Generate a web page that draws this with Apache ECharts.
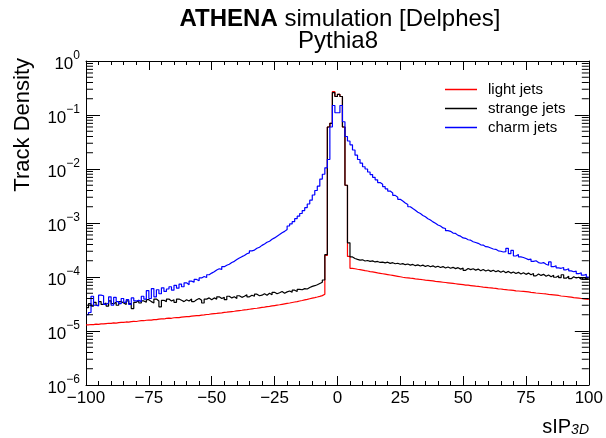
<!DOCTYPE html>
<html>
<head>
<meta charset="utf-8">
<script src="https://cdn.jsdelivr.net/npm/echarts@6/dist/echarts.min.js"></script>
<style>html,body{margin:0;padding:0;background:#fff}#c{width:606px;height:438px}</style>
</head>
<body>
<div id="c"></div>
<script>
// bin layout: 200 bins of width 1 from -100 to 100 (value listed per bin, left edge order)
const xMin = -100, xMax = 100, binWidth = 1;
const xTicks = [-100, -75, -50, -25, 0, 25, 50, 75, 100];
const yDecades = [1e-6, 1e-5, 1e-4, 1e-3, 1e-2, 1e-1, 1];
const seriesNames = ['light jets', 'strange jets', 'charm jets'];

const lightJets = [
  1.30e-5,1.32e-5,1.31e-5,1.34e-5,1.33e-5,1.36e-5,1.35e-5,1.37e-5,1.39e-5,1.38e-5,
  1.41e-5,1.40e-5,1.43e-5,1.45e-5,1.44e-5,1.47e-5,1.46e-5,1.49e-5,1.51e-5,1.50e-5,
  1.53e-5,1.56e-5,1.55e-5,1.58e-5,1.60e-5,1.59e-5,1.63e-5,1.62e-5,1.66e-5,1.68e-5,
  1.67e-5,1.71e-5,1.73e-5,1.72e-5,1.76e-5,1.78e-5,1.77e-5,1.81e-5,1.83e-5,1.85e-5,
  1.84e-5,1.88e-5,1.91e-5,1.93e-5,1.92e-5,1.97e-5,1.99e-5,2.02e-5,2.04e-5,2.07e-5,
  2.10e-5,2.12e-5,2.15e-5,2.17e-5,2.21e-5,2.23e-5,2.26e-5,2.29e-5,2.32e-5,2.36e-5,
  2.39e-5,2.42e-5,2.46e-5,2.49e-5,2.53e-5,2.57e-5,2.61e-5,2.64e-5,2.69e-5,2.73e-5,
  2.77e-5,2.82e-5,2.86e-5,2.91e-5,2.96e-5,3.01e-5,3.06e-5,3.12e-5,3.18e-5,3.24e-5,
  3.30e-5,3.37e-5,3.44e-5,3.51e-5,3.59e-5,3.67e-5,3.76e-5,3.85e-5,3.95e-5,4.05e-5,
  4.15e-5,4.26e-5,4.38e-5,4.52e-5,4.8e-5,2.5e-4,0.06,0.07,0.27,0.22,
  0.24,0.22,0.06,0.005,2.4e-4,1.45e-4,1.42e-4,1.39e-4,1.37e-4,1.34e-4,
  1.31e-4,1.29e-4,1.26e-4,1.24e-4,1.22e-4,1.19e-4,1.17e-4,1.15e-4,1.13e-4,1.11e-4,
  1.09e-4,1.07e-4,1.05e-4,1.03e-4,1.01e-4,9.9e-5,9.75e-5,9.65e-5,9.5e-5,9.4e-5,
  9.25e-5,9.15e-5,9.0e-5,8.9e-5,8.75e-5,8.65e-5,8.55e-5,8.45e-5,8.3e-5,8.2e-5,
  8.1e-5,8.0e-5,7.9e-5,7.8e-5,7.7e-5,7.6e-5,7.5e-5,7.4e-5,7.3e-5,7.2e-5,
  7.1e-5,7.05e-5,6.95e-5,6.85e-5,6.75e-5,6.7e-5,6.6e-5,6.5e-5,6.45e-5,6.35e-5,
  6.3e-5,6.2e-5,6.15e-5,6.05e-5,6.0e-5,5.9e-5,5.85e-5,5.75e-5,5.7e-5,5.65e-5,
  5.55e-5,5.5e-5,5.45e-5,5.4e-5,5.35e-5,5.3e-5,5.2e-5,5.15e-5,5.05e-5,5.0e-5,
  4.95e-5,4.9e-5,4.85e-5,4.75e-5,4.7e-5,4.65e-5,4.6e-5,4.55e-5,4.45e-5,4.4e-5,
  4.35e-5,4.3e-5,4.25e-5,4.15e-5,4.1e-5,4.05e-5,4.0e-5,3.95e-5,3.9e-5,3.85e-5
];

const strangeJets = [
  2.7e-5,3.2e-5,2.9e-5,3.4e-5,3.0e-5,3.5e-5,3.1e-5,3.3e-5,2.9e-5,3.6e-5,
  3.2e-5,3.4e-5,3.0e-5,3.5e-5,3.3e-5,3.1e-5,3.6e-5,3.2e-5,2.6e-5,3.4e-5,
  3.7e-5,3.3e-5,3.6e-5,3.4e-5,3.8e-5,3.5e-5,3.3e-5,3.9e-5,3.6e-5,2.8e-5,
  3.7e-5,3.5e-5,3.9e-5,3.6e-5,3.8e-5,3.4e-5,3.9e-5,3.7e-5,3.5e-5,3.8e-5,
  3.6e-5,3.9e-5,3.5e-5,3.8e-5,4.0e-5,3.7e-5,3.3e-5,3.9e-5,4.1e-5,3.8e-5,
  4.1e-5,3.9e-5,4.3e-5,4.0e-5,4.2e-5,3.8e-5,4.4e-5,4.1e-5,4.3e-5,4.0e-5,
  4.5e-5,4.2e-5,4.4e-5,4.7e-5,4.3e-5,4.6e-5,4.4e-5,4.8e-5,4.5e-5,4.6e-5,
  4.9e-5,4.6e-5,5.0e-5,4.7e-5,5.2e-5,4.9e-5,5.1e-5,5.4e-5,5.0e-5,5.3e-5,
  5.5e-5,5.2e-5,5.7e-5,5.4e-5,5.9e-5,5.8e-5,6.1e-5,6.0e-5,6.4e-5,6.7e-5,
  6.9e-5,7.2e-5,7.6e-5,8.0e-5,8.8e-5,2.6e-4,0.06,0.07,0.26,0.22,
  0.24,0.22,0.06,0.005,4.3e-4,2.35e-4,2.20e-4,2.12e-4,2.05e-4,2.08e-4,
  1.98e-4,2.02e-4,1.95e-4,1.99e-4,1.90e-4,1.94e-4,1.86e-4,1.89e-4,1.83e-4,1.88e-4,
  1.79e-4,1.84e-4,1.76e-4,1.80e-4,1.72e-4,1.77e-4,1.69e-4,1.74e-4,1.66e-4,1.71e-4,
  1.62e-4,1.68e-4,1.60e-4,1.66e-4,1.57e-4,1.63e-4,1.55e-4,1.61e-4,1.52e-4,1.58e-4,
  1.50e-4,1.56e-4,1.47e-4,1.53e-4,1.45e-4,1.51e-4,1.43e-4,1.49e-4,1.40e-4,1.46e-4,
  1.33e-4,1.44e-4,1.37e-4,1.42e-4,1.34e-4,1.40e-4,1.31e-4,1.38e-4,1.29e-4,1.35e-4,
  1.27e-4,1.33e-4,1.25e-4,1.31e-4,1.22e-4,1.29e-4,1.20e-4,1.27e-4,1.18e-4,1.24e-4,
  1.16e-4,1.22e-4,1.14e-4,1.20e-4,1.12e-4,1.18e-4,1.10e-4,1.16e-4,1.05e-4,1.14e-4,
  1.07e-4,1.12e-4,1.03e-4,1.09e-4,1.01e-4,1.08e-4,0.99e-4,1.06e-4,0.97e-4,1.10e-4,
  0.95e-4,1.03e-4,0.93e-4,1.01e-4,0.96e-4,0.99e-4,0.91e-4,0.97e-4,0.93e-4,0.92e-4
];

const charmJets = [
  2.0e-5,2.2e-5,4.4e-5,3.0e-5,2.9e-5,4.6e-5,4.5e-5,3.1e-5,3.3e-5,4.3e-5,
  3.0e-5,4.2e-5,3.5e-5,3.2e-5,4.0e-5,3.4e-5,3.8e-5,3.1e-5,4.1e-5,3.6e-5,
  3.7e-5,3.5e-5,4.4e-5,3.9e-5,5.6e-5,4.0e-5,6.1e-5,4.3e-5,5.8e-5,4.9e-5,
  6.3e-5,5.4e-5,6.0e-5,6.6e-5,5.7e-5,7.0e-5,6.2e-5,7.4e-5,6.6e-5,7.8e-5,
  7.2e-5,8.4e-5,8.0e-5,9.0e-5,8.5e-5,9.6e-5,1.02e-4,9.8e-5,1.10e-4,1.18e-4,
  1.25e-4,1.35e-4,1.42e-4,1.38e-4,1.55e-4,1.65e-4,1.72e-4,1.86e-4,1.95e-4,2.10e-4,
  2.25e-4,2.38e-4,2.50e-4,2.70e-4,2.80e-4,3.05e-4,3.15e-4,3.40e-4,3.55e-4,3.85e-4,
  4.10e-4,4.40e-4,4.60e-4,5.00e-4,5.30e-4,5.70e-4,6.10e-4,6.60e-4,7.00e-4,7.60e-4,
  8.8e-4,9.6e-4,1.06e-3,1.20e-3,1.34e-3,1.50e-3,1.70e-3,1.92e-3,2.25e-3,2.65e-3,
  3.3e-3,4.0e-3,4.8e-3,6.5e-3,8.0e-3,1.05e-2,1.5e-2,6.0e-2,0.15,0.11,
  0.11,0.15,0.075,0.04,0.033,0.028,0.0225,0.018,0.015,0.0128,
  1.10e-2,1.0e-2,8.8e-3,7.9e-3,7.0e-3,6.3e-3,5.6e-3,5.2e-3,4.7e-3,4.3e-3,
  3.9e-3,3.6e-3,3.25e-3,3.0e-3,2.75e-3,2.55e-3,2.35e-3,2.2e-3,2.0e-3,1.85e-3,
  1.72e-3,1.58e-3,1.5e-3,1.38e-3,1.30e-3,1.2e-3,1.14e-3,1.05e-3,9.9e-4,9.2e-4,
  8.8e-4,8.1e-4,7.9e-4,7.2e-4,7.0e-4,6.5e-4,6.4e-4,5.9e-4,5.7e-4,5.3e-4,
  5.2e-4,4.9e-4,4.8e-4,4.5e-4,4.35e-4,4.2e-4,3.95e-4,3.9e-4,3.65e-4,3.6e-4,
  3.45e-4,3.3e-4,3.25e-4,3.05e-4,3.0e-4,2.9e-4,2.95e-4,3.4e-4,2.7e-4,3.1e-4,
  2.45e-4,2.6e-4,2.35e-4,2.3e-4,2.2e-4,2.1e-4,2.15e-4,1.95e-4,2.0e-4,1.85e-4,
  1.8e-4,1.85e-4,1.72e-4,1.65e-4,1.9e-4,1.55e-4,1.62e-4,1.48e-4,1.45e-4,1.5e-4,
  1.36e-4,1.42e-4,1.3e-4,1.25e-4,1.28e-4,1.15e-4,1.2e-4,1.08e-4,1.12e-4,1.0e-4
];

const FONT = "'Liberation Sans', Arial, Helvetica, sans-serif";

// histogram -> step points at bin edges
function histPoints(vals) {
  const pts = vals.map((v, i) => [xMin + i * binWidth, v]);
  pts.push([xMax, vals[vals.length - 1]]);
  return pts;
}

// log minor tick values (2..9 per decade)
const yMinor = [];
for (let d = 0; d < yDecades.length - 1; d++) {
  for (let k = 2; k <= 9; k++) yMinor.push(yDecades[d] * k);
}

const chart = echarts.init(document.getElementById('c'), null, {renderer: 'canvas'});

const xAxisBase = {
  type: 'value', min: xMin, max: xMax, interval: 25,
  axisLine: {show: true, onZero: false, lineStyle: {color: '#000', width: 1}},
  axisTick: {show: true, inside: true, length: 9, lineStyle: {color: '#000'}},
  minorTick: {show: true, splitNumber: 5, length: 4, lineStyle: {color: '#000'}},
  splitLine: {show: false}
};
const yAxisBase = {
  type: 'log', logBase: 10, min: 1e-6, max: 1, splitNumber: 6,
  axisLine: {show: true, onZero: false, lineStyle: {color: '#000', width: 1}},
  axisTick: {show: true, inside: true, length: 14, lineStyle: {color: '#000'}},
  splitLine: {show: false}
};

chart.setOption({
  animation: false,
  backgroundColor: '#fff',
  grid: {left: 86, right: 17, top: 61, bottom: 53},
  xAxis: [
    Object.assign({}, xAxisBase, {
      position: 'bottom',
      axisLabel: {show: true, margin: 5, color: '#000', fontFamily: FONT, fontSize: 17,
        formatter: v => String(v).replace('-', '\u2212')}
    }),
    Object.assign({}, xAxisBase, {position: 'top', axisLabel: {show: false}})
  ],
  yAxis: [
    Object.assign({}, yAxisBase, {
      position: 'left',
      axisLabel: {
        show: true, margin: 6, color: '#000',
        formatter: function (v) {
          const e = Math.round(Math.log10(v));
          return '{b|10}{s|' + (e < 0 ? '\u2212' + (-e) : String(e)) + '}';
        },
        rich: {
          b: {fontFamily: FONT, fontSize: 17, color: '#000', padding: [6, 0, 0, 0]},
          s: {fontFamily: FONT, fontSize: 12, color: '#000', verticalAlign: 'top'}
        }
      }
    }),
    Object.assign({}, yAxisBase, {position: 'right', axisLabel: {show: false}})
  ],
  legend: {
    data: seriesNames, orient: 'vertical', left: 445, top: 82, padding: 0,
    icon: 'rect', itemWidth: 32, itemHeight: 1.5, itemGap: 4,
    textStyle: {fontFamily: FONT, fontSize: 15, color: '#000', padding: [0, 0, 0, 6]}
  },
  graphic: [
    {type: 'text', x: 340, y: 19, style: {
      text: '{b|ATHENA} simulation [Delphes]', align: 'center', verticalAlign: 'middle',
      font: '24px ' + FONT, fill: '#000',
      rich: {b: {fontFamily: FONT, fontSize: 24, fontWeight: 'bold', fill: '#000'}}
    }},
    {type: 'text', x: 338, y: 41, style: {
      text: 'Pythia8', align: 'center', verticalAlign: 'middle', font: '24px ' + FONT, fill: '#000'
    }},
    {type: 'text', x: 23, y: 58, rotation: Math.PI / 2, style: {
      text: 'Track Density', align: 'right', verticalAlign: 'middle', font: '22px ' + FONT, fill: '#000'
    }},
    {type: 'text', x: 589, y: 427, style: {
      text: '{n|sIP}{s|3D}', align: 'right', verticalAlign: 'middle', fill: '#000',
      rich: {
        n: {fontFamily: FONT, fontSize: 20, fill: '#000'},
        s: {fontFamily: FONT, fontSize: 14, fontStyle: 'italic', fill: '#000', verticalAlign: 'bottom'}
      }
    }}
  ],
  series: [
    {name: 'light jets', type: 'line', step: 'end', symbol: 'none', data: histPoints(lightJets),
      lineStyle: {color: '#ff0000', width: 1.2}, itemStyle: {color: '#ff0000'}, z: 3},
    {name: 'strange jets', type: 'line', step: 'end', symbol: 'none', data: histPoints(strangeJets),
      lineStyle: {color: '#000000', width: 1.2}, itemStyle: {color: '#000000'}, z: 4},
    {name: 'charm jets', type: 'line', step: 'end', symbol: 'none', data: histPoints(charmJets),
      lineStyle: {color: '#0000ff', width: 1.2}, itemStyle: {color: '#0000ff'}, z: 5},
    {name: 'yMinorTicks', type: 'custom', silent: true, clip: false, z: 6,
      data: yMinor.map(v => [0, v]),
      renderItem: function (params, api) {
        const v = api.value(1);
        const pl = api.coord([xMin, v]);
        const pr = api.coord([xMax, v]);
        const st = {stroke: '#000', lineWidth: 1};
        return {type: 'group', children: [
          {type: 'line', shape: {x1: pl[0], y1: pl[1], x2: pl[0] + 7, y2: pl[1]}, style: st},
          {type: 'line', shape: {x1: pr[0] - 7, y1: pr[1], x2: pr[0], y2: pr[1]}, style: st}
        ]};
      }
    }
  ]
});
</script>
</body>
</html>
